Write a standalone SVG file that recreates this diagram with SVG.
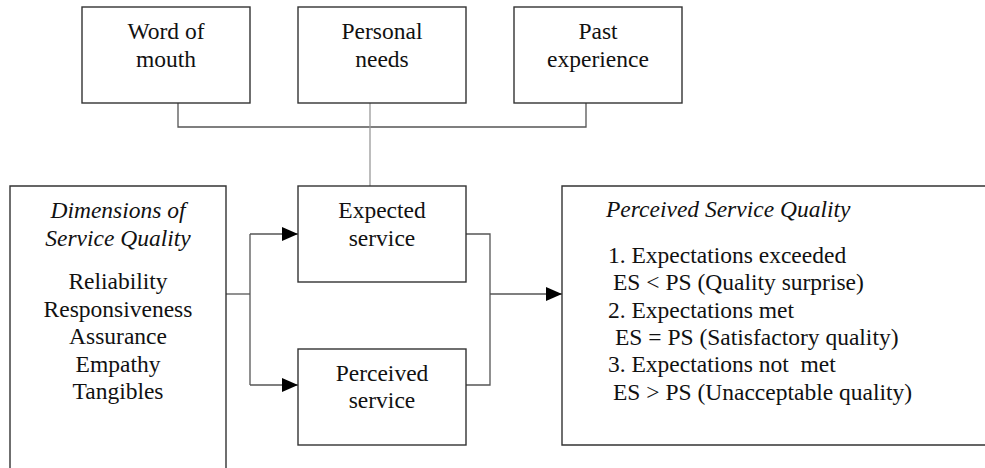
<svg xmlns="http://www.w3.org/2000/svg" width="985" height="468" viewBox="0 0 985 468">
<defs>
<style>
.box{fill:#fff;stroke:#333;stroke-width:1.4}
.t{font-family:'Liberation Serif',Tinos,'Times New Roman',Times,'Nimbus Roman','Nimbus Roman No9 L',FreeSerif,'Noto Serif','DejaVu Serif',Georgia,serif;font-size:23.5px;fill:#111}
.c{text-anchor:middle}
.i{font-style:italic}
.ln{fill:none;stroke:#555;stroke-width:1.3}
.lt{fill:none;stroke:#999;stroke-width:1.3}
</style>
<marker id="ah" markerWidth="16" markerHeight="14" refX="16" refY="7" orient="auto" markerUnits="userSpaceOnUse">
<path d="M0,0 L16,7 L0,14 Z" fill="#000"/>
</marker>
</defs>
<rect width="985" height="468" fill="#fff"/>
<g id="connectors">
<path class="ln" d="M178,103 V127 H586 V103"/>
<path class="lt" d="M370,103 V186"/>
<path class="ln" d="M226,294 H250"/>
<path class="ln" d="M250,234 V385"/>
<path class="ln" d="M250,234 H298" marker-end="url(#ah)"/>
<path class="ln" d="M250,385 H298" marker-end="url(#ah)"/>
<path class="ln" d="M466,234 H490 V385 H466"/>
<path class="ln" d="M490,294 H562" marker-end="url(#ah)"/>
</g>
<g id="word-of-mouth">
<rect class="box" x="82" y="7" width="168" height="96"/>
<text class="t c" x="166" y="39">Word of</text>
<text class="t c" x="166" y="67">mouth</text>
</g>
<g id="personal-needs">
<rect class="box" x="298" y="7" width="168" height="96"/>
<text class="t c" x="382" y="39">Personal</text>
<text class="t c" x="382" y="67">needs</text>
</g>
<g id="past-experience">
<rect class="box" x="514" y="7" width="168" height="96"/>
<text class="t c" x="598" y="39">Past</text>
<text class="t c" x="598" y="67">experience</text>
</g>
<g id="dimensions">
<path class="box" d="M10,480 V186 H226 V480"/>
<text class="t c i" x="118" y="218">Dimensions of</text>
<text class="t c i" x="118" y="246">Service Quality</text>
<text class="t c" x="118" y="289">Reliability</text>
<text class="t c" x="118" y="317">Responsiveness</text>
<text class="t c" x="118" y="344">Assurance</text>
<text class="t c" x="118" y="372">Empathy</text>
<text class="t c" x="118" y="399">Tangibles</text>
</g>
<g id="expected-service">
<rect class="box" x="298" y="186" width="168" height="96"/>
<text class="t c" x="382" y="218">Expected</text>
<text class="t c" x="382" y="246">service</text>
</g>
<g id="perceived-service">
<rect class="box" x="298" y="349" width="168" height="96"/>
<text class="t c" x="382" y="381">Perceived</text>
<text class="t c" x="382" y="408">service</text>
</g>
<g id="perceived-service-quality">
<path class="box" d="M995,186 H562 V445 H995"/>
<text class="t i" x="606" y="217">Perceived Service Quality</text>
<text class="t" x="608" y="263">1. Expectations exceeded</text>
<text class="t" x="613" y="290">ES &lt; PS (Quality surprise)</text>
<text class="t" x="608" y="318">2. Expectations met</text>
<text class="t" x="615" y="345">ES = PS (Satisfactory quality)</text>
<text class="t" x="608" y="372" style="white-space:pre">3. Expectations not  met</text>
<text class="t" x="613" y="400">ES &gt; PS (Unacceptable quality)</text>
</g>
</svg>
